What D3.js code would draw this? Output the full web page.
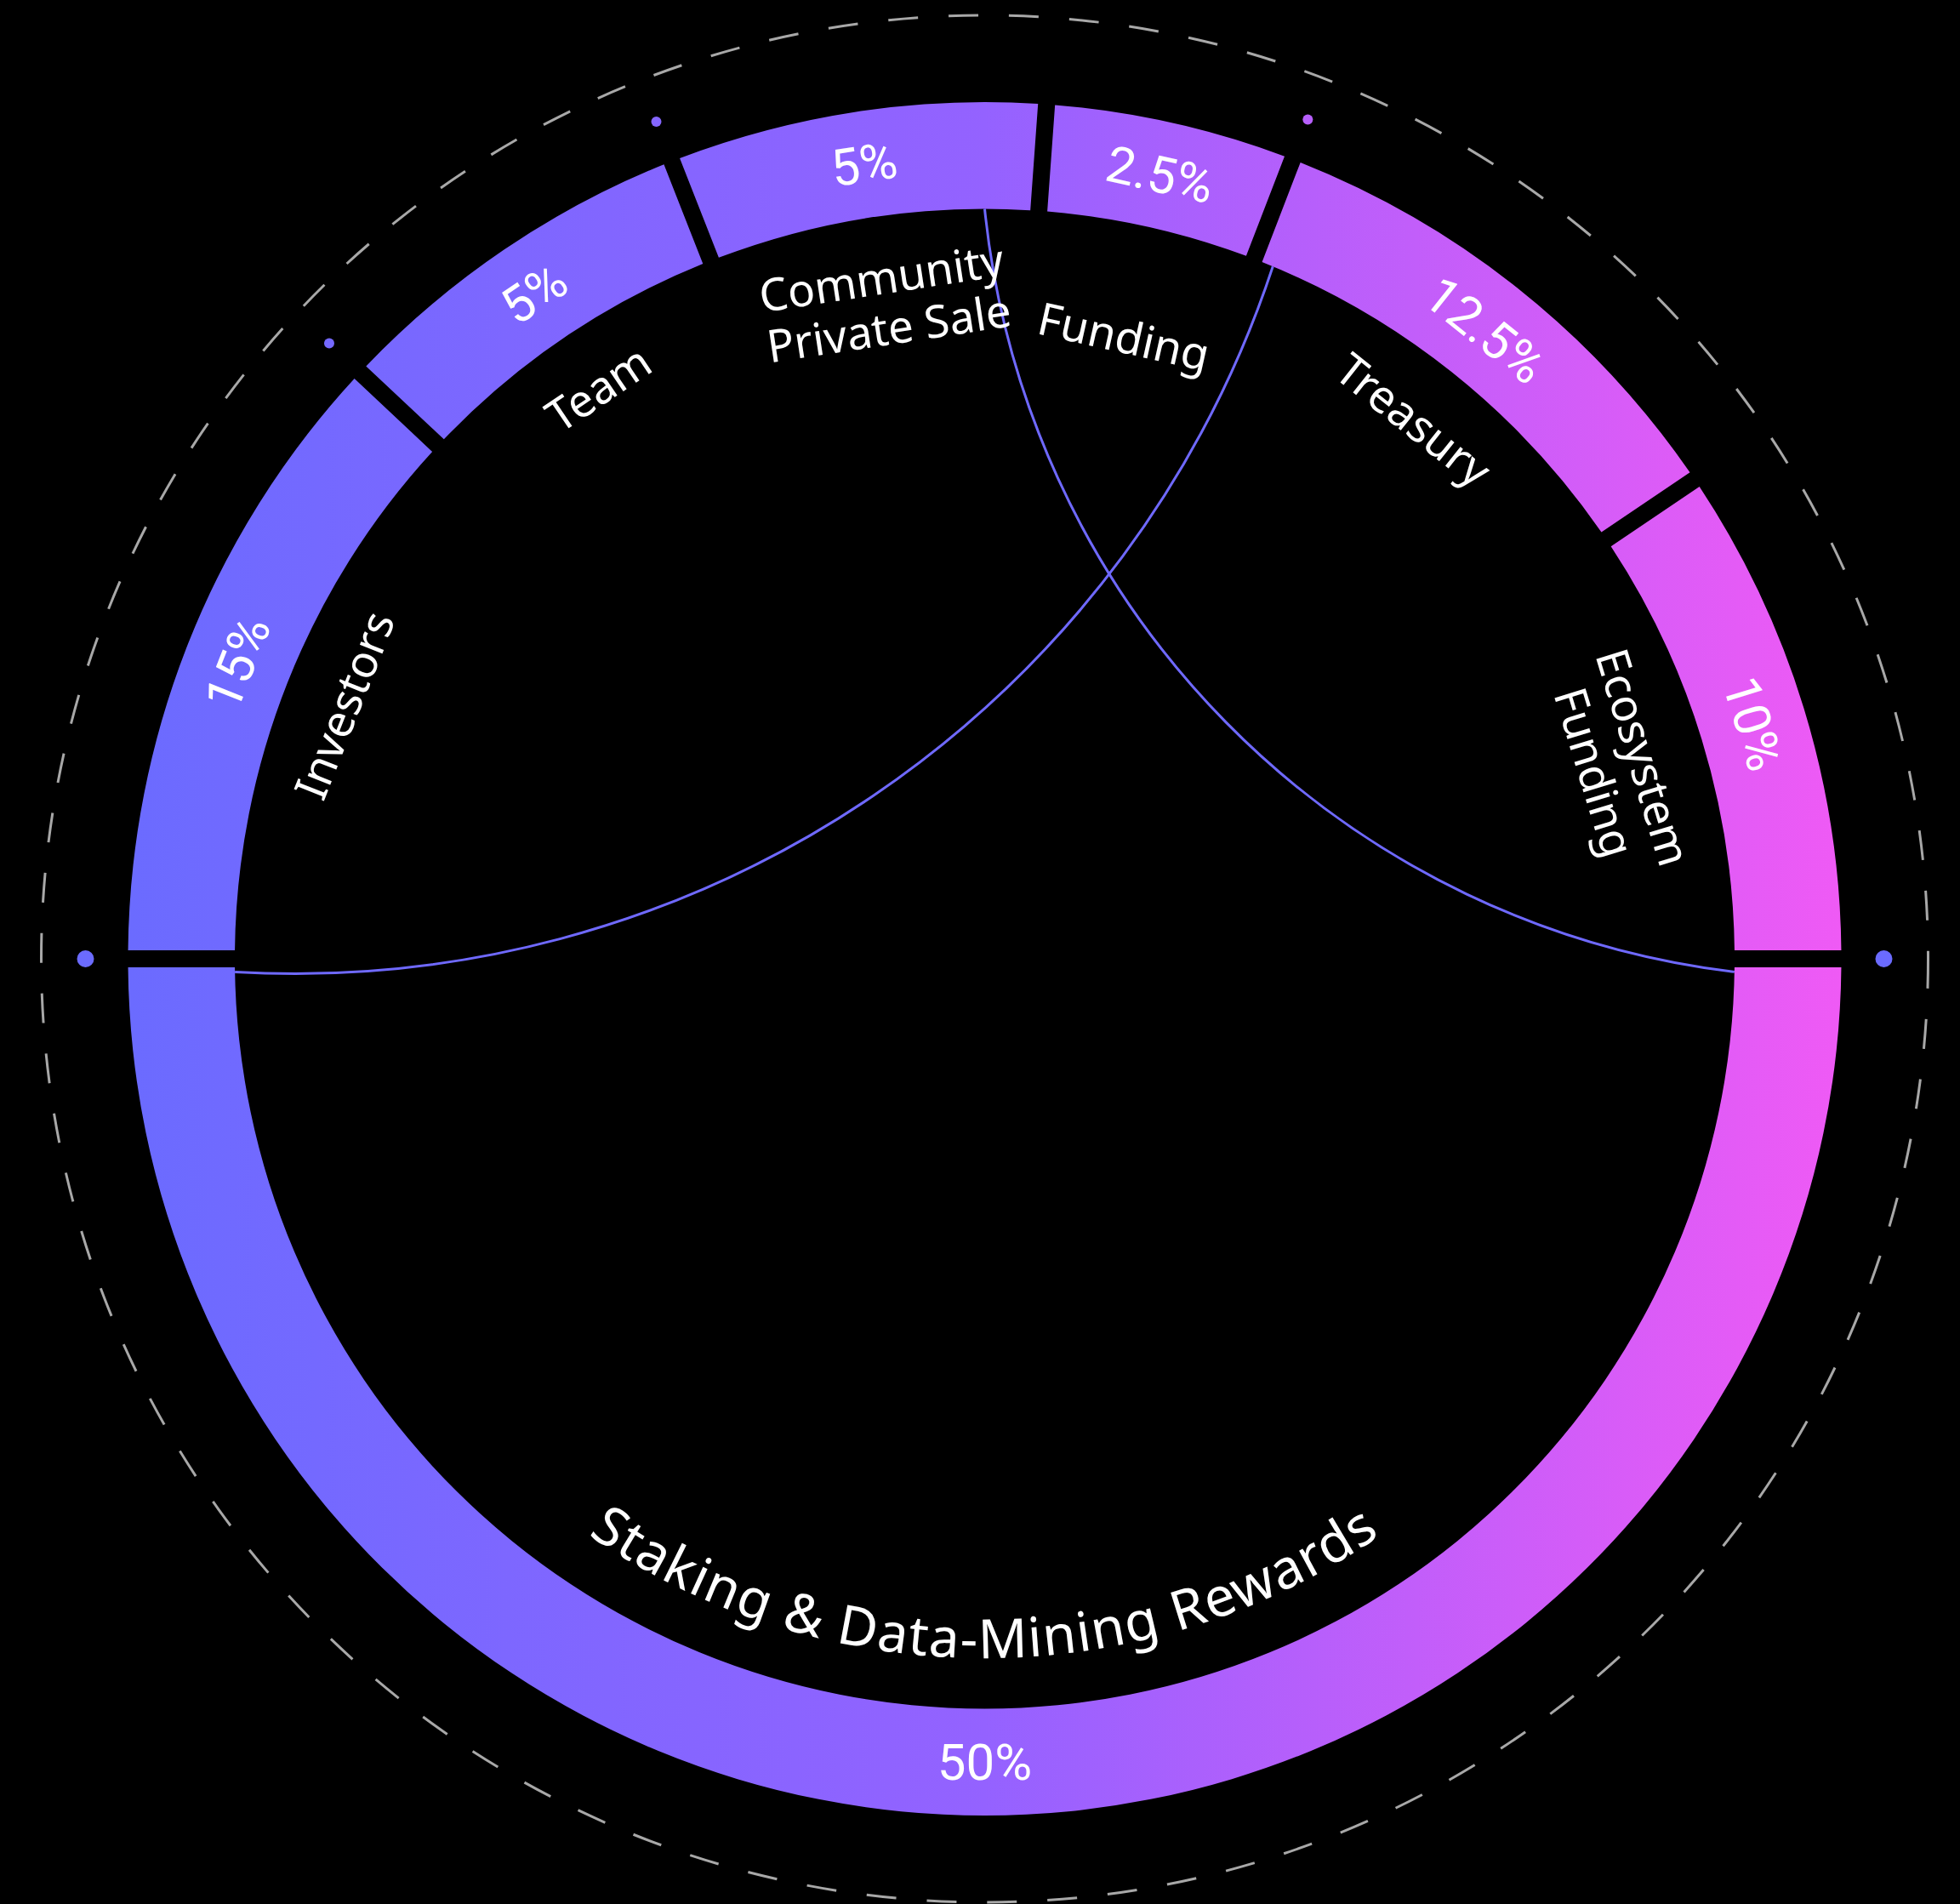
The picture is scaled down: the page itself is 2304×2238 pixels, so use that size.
<!DOCTYPE html>
<html>
<head>
<meta charset="utf-8">
<script src="https://cdn.jsdelivr.net/npm/d3@7"></script>
<style>
  html, body { margin: 0; padding: 0; background: #000; }
  svg { display: block; }
</style>
</head>
<body>
<div id="chart"></div>
<script>
// token allocation as printed on the ring
const categories = ['Investors', 'Team', 'Community Private Sale', 'Funding', 'Treasury', 'Ecosystem Funding', 'Staking & Data-Mining Rewards'];
const shares = [15, 5, 5, 2.5, 12.5, 10, 50];
// share of the ring each slice really covers in the picture (top half is not to scale)
const arcWeights = [12, 7.05, 7.1, 4.7, 9.7, 9.45, 50];
// label text, one entry per line (Funding sits on the second line)
const labelLines = [['Investors'], ['Team'], ['Community', 'Private Sale'], ['', 'Funding'], ['Treasury'], ['Ecosystem', 'Funding'], ['Staking & Data-Mining Rewards']];

const width = 2304, height = 2238;
const cx = 1157.5, cy = 1127;
const outerR = 1007, innerR = 881.5;
const midR = (outerR + innerR) / 2;

const data = categories.map((name, i) => ({
    name: name,
    share: shares[i],
    weight: arcWeights[i],
    lines: labelLines[i]
}));

const svg = d3.select('#chart')
    .append('svg')
    .attr('width', width)
    .attr('height', height)
    .style('background', '#000');

const defs = svg.append('defs');

// gradient lives in the translated group's coordinates
const grad = defs.append('linearGradient')
    .attr('id', 'ringGrad')
    .attr('gradientUnits', 'userSpaceOnUse')
    .attr('x1', -outerR).attr('x2', outerR)
    .attr('y1', 0).attr('y2', 0);
grad.selectAll('stop')
    .data([[0, '#6b6bff'], [0.5, '#9462ff'], [1, '#ef5af5']])
    .join('stop')
    .attr('offset', d => d[0])
    .attr('stop-color', d => d[1]);

const g = svg.append('g').attr('transform', `translate(${cx},${cy})`);

const polar = (r, a) => [r * Math.sin(a), -r * Math.cos(a)];
const rad = deg => deg * Math.PI / 180;

// outer dashed orbit
g.append('circle')
    .attr('r', 1109)
    .attr('fill', 'none')
    .attr('stroke', '#a8a8a8')
    .attr('stroke-width', 3)
    .attr('stroke-dasharray', '35 36');

// two thin swoosh lines crossing the middle
const swoops = [
    { from: 0, to: 91, radius: 1006, sweep: 0 },
    { from: 22.6, to: -91, radius: 1211, sweep: 1 }
];
g.selectAll('path.swoop')
    .data(swoops)
    .join('path')
    .attr('class', 'swoop')
    .attr('fill', 'none')
    .attr('stroke', '#6f69ff')
    .attr('stroke-width', 3)
    .attr('d', d => {
        const p0 = polar(innerR, rad(d.from));
        const p1 = polar(innerR, rad(d.to));
        return `M${p0[0]},${p0[1]} A${d.radius},${d.radius} 0 0 ${d.sweep} ${p1[0]},${p1[1]}`;
    });

const pie = d3.pie()
    .sort(null)
    .value(d => d.weight)
    .startAngle(-Math.PI / 2)
    .endAngle(1.5 * Math.PI);

const arc = d3.arc()
    .innerRadius(innerR)
    .outerRadius(outerR)
    .padRadius(outerR)
    .padAngle(20 / outerR);

const arcs = pie(data);

g.selectAll('path.slice')
    .data(arcs)
    .join('path')
    .attr('class', 'slice')
    .attr('fill', 'url(#ringGrad)')
    .attr('d', arc);

// little dots sitting on some of the slice borders
const dotIdx = [0, 1, 2, 4, 6];
const isBig = d => d.index === 0 || d.index === 6;
g.selectAll('circle.dot')
    .data(arcs.filter((d, i) => dotIdx.includes(i)))
    .join('circle')
    .attr('class', 'dot')
    .attr('cx', d => polar(1057, d.startAngle)[0])
    .attr('cy', d => polar(1057, d.startAngle)[1])
    .attr('r', d => isBig(d) ? 10 : 6)
    .attr('fill', d => isBig(d) ? '#6b6bff' : 'url(#ringGrad)');

const midAngle = d => (d.startAngle + d.endAngle) / 2;
const textRot = d => {
    let deg = midAngle(d) * 180 / Math.PI;
    if (deg > 90 && deg < 270) deg -= 180;
    return deg;
};

// percentages inside the ring
g.selectAll('text.pct')
    .data(arcs)
    .join('text')
    .attr('class', 'pct')
    .attr('transform', d => {
        const p = polar(midR, midAngle(d));
        return `translate(${p[0]},${p[1]}) rotate(${textRot(d)})`;
    })
    .attr('text-anchor', 'middle')
    .attr('dominant-baseline', 'central')
    .attr('fill', '#fff')
    .style('font-family', 'Roboto, sans-serif')
    .style('font-size', '60px')
    .text(d => d.data.share + '%');

// category names just inside the ring (top half)
const upperArcs = arcs.filter(d => d.index < 6);
const lineGap = 60;
upperArcs.forEach(d => {
    d.data.lines.forEach((line, j) => {
        if (!line) return;
        const p = polar(811 - j * lineGap, midAngle(d));
        g.append('text')
            .attr('transform', `translate(${p[0]},${p[1]}) rotate(${textRot(d)})`)
            .attr('text-anchor', 'middle')
            .attr('dominant-baseline', 'central')
            .attr('fill', '#fff')
            .style('font-family', '"Noto Sans", sans-serif')
            .style('font-size', '53px')
            .text(line);
    });
});

// bottom label follows the ring
const baseR = 822;
defs.append('path')
    .attr('id', 'stakePath')
    .attr('d', `M${cx - baseR},${cy} A${baseR},${baseR} 0 0 0 ${cx + baseR},${cy}`);

svg.append('text')
    .attr('fill', '#fff')
    .style('font-family', '"Noto Sans", sans-serif')
    .style('font-size', '64px')
    .style('letter-spacing', '1.5px')
    .append('textPath')
    .attr('href', '#stakePath')
    .attr('startOffset', '50%')
    .attr('text-anchor', 'middle')
    .text(arcs[6].data.lines[0]);
</script>
</body>
</html>
